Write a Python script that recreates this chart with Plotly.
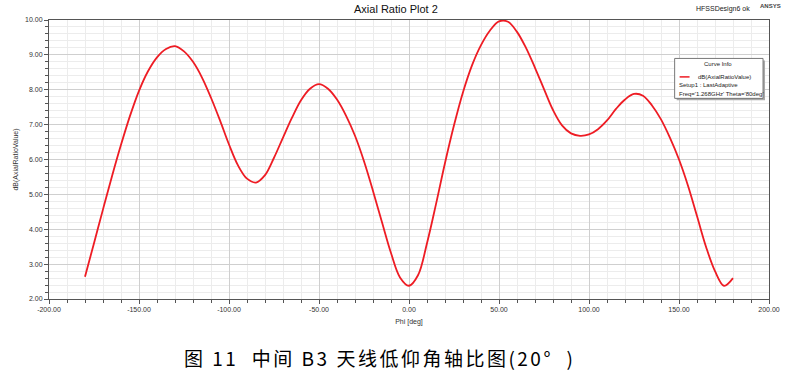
import plotly.graph_objects as go

# Data (Phi in deg, dB(AxialRatioValue)), every 5 deg
phi = list(range(-180, 181, 5))
ar_db = [2.64, 3.6, 4.57, 5.52, 6.42, 7.25, 7.97, 8.53, 8.93, 9.17, 9.25,
         9.1, 8.8, 8.35, 7.77, 7.12, 6.43, 5.83, 5.45, 5.34, 5.55, 6.05, 6.63, 7.2, 7.7, 8.03, 8.16,
         8.03, 7.72, 7.26, 6.68, 5.95, 5.1, 4.2, 3.32, 2.62, 2.38,
         2.68, 3.6, 4.72, 5.9, 6.98, 7.93, 8.7, 9.28, 9.7, 9.96, 9.95,
         9.66, 9.2, 8.63, 8.02, 7.42, 6.98, 6.75, 6.68, 6.72,
         6.87, 7.12, 7.45, 7.72, 7.88, 7.83,
         7.55, 7.15, 6.62, 6.0, 5.25, 4.38, 3.5, 2.8, 2.38, 2.6]

x_ticks = [-200, -150, -100, -50, 0, 50, 100, 150, 200]
y_ticks = [2, 3, 4, 5, 6, 7, 8, 9, 10]

W, H = 792, 379
L, R, T, B = 49, 774, 19.5, 299

def fx(px):
    return (px - L) / (R - L)

def fy(py):
    return (B - py) / (B - T)

FONT = "Liberation Sans, Arial, sans-serif"

fig = go.Figure()
fig.add_trace(go.Scatter(x=phi, y=ar_db, mode="lines",
                         line=dict(color="#ee1c24", width=1.8, shape="spline", smoothing=1.0),
                         showlegend=False, hoverinfo="x+y"))

axis_common = dict(showline=True, linecolor="#555555", linewidth=1, mirror=True,
                   ticks="outside", ticklen=4, tickcolor="#555555",
                   showgrid=True, gridcolor="#cfcfcf", gridwidth=1, zeroline=False,
                   tickfont=dict(family=FONT, size=7, color="#333333"))

fig.update_xaxes(range=[-200, 200], tickvals=x_ticks,
                 ticktext=[f"{v:.2f}" for v in x_ticks],
                 minor=dict(dtick=10, showgrid=True, gridcolor="#ececec", ticks="outside",
                            ticklen=3, tickcolor="#555555"),
                 title=dict(text="Phi [deg]", font=dict(family=FONT, size=7, color="#333333"), standoff=6),
                 **axis_common)
fig.update_yaxes(range=[2, 10], tickvals=y_ticks,
                 ticktext=[f"{v:.2f}" for v in y_ticks],
                 minor=dict(dtick=0.2, showgrid=True, gridcolor="#ececec", ticks="outside",
                            ticklen=3, tickcolor="#555555"),
                 title=dict(text="dB(AxialRatioValue)", font=dict(family=FONT, size=7, color="#333333"), standoff=5),
                 **axis_common)

annotations = [
    dict(text="Axial Ratio Plot 2", x=fx(398), y=fy(8), xref="paper", yref="paper",
         showarrow=False, font=dict(family=FONT, size=11, color="#111111"),
         xanchor="center", yanchor="middle"),
    dict(text="HFSSDesign6 ok", x=fx(698), y=fy(8), xref="paper", yref="paper",
         showarrow=False, font=dict(family=FONT, size=7, color="#222222"),
         xanchor="left", yanchor="middle"),
    dict(text="<b>ANSYS</b>", x=fx(763), y=fy(5), xref="paper", yref="paper",
         showarrow=False, font=dict(family=FONT, size=6, color="#444444"),
         xanchor="left", yanchor="middle"),
    dict(text="Curve Info", x=fx(723), y=fy(64), xref="paper", yref="paper",
         showarrow=False, font=dict(family=FONT, size=6, color="#222222"),
         xanchor="center", yanchor="middle"),
    dict(text="dB(AxialRatioValue)", x=fx(700), y=fy(76.5), xref="paper", yref="paper",
         showarrow=False, font=dict(family=FONT, size=6, color="#222222"),
         xanchor="left", yanchor="middle"),
    dict(text="Setup1 : LastAdaptive", x=fx(681), y=fy(85), xref="paper", yref="paper",
         showarrow=False, font=dict(family=FONT, size=6, color="#222222"),
         xanchor="left", yanchor="middle"),
    dict(text="Freq='1.268GHz' Theta='80deg'", x=fx(681), y=fy(93.5), xref="paper", yref="paper",
         showarrow=False, font=dict(family=FONT, size=6, color="#222222"),
         xanchor="left", yanchor="middle"),
    dict(text='<span style="letter-spacing:2.5px">图 11  中间 B3 天线低仰角轴比图(20°  )</span>',
         x=fx(382), y=fy(358), xref="paper", yref="paper",
         showarrow=False, font=dict(family="Noto Sans CJK SC", size=19, color="#000000"),
         xanchor="center", yanchor="middle"),
]

shapes = [
    dict(type="rect", xref="paper", yref="paper", x0=fx(681), x1=fx(770), y0=fy(60), y1=fy(100),
         fillcolor="#aaaaaa", line=dict(width=0), layer="above"),
    dict(type="rect", xref="paper", yref="paper", x0=fx(679), x1=fx(768), y0=fy(58), y1=fy(98),
         fillcolor="#ffffff", line=dict(color="#777777", width=1), layer="above"),
    dict(type="line", xref="paper", yref="paper", x0=fx(684), x1=fx(694), y0=fy(76.5), y1=fy(76.5),
         line=dict(color="#ee1c24", width=1.5), layer="above"),
]

fig.update_layout(width=W, height=H,
                  margin=dict(l=L, r=W - R, t=T, b=H - B, pad=0),
                  paper_bgcolor="#ffffff", plot_bgcolor="#ffffff",
                  annotations=annotations, shapes=shapes)

fig.write_html("out.html")
